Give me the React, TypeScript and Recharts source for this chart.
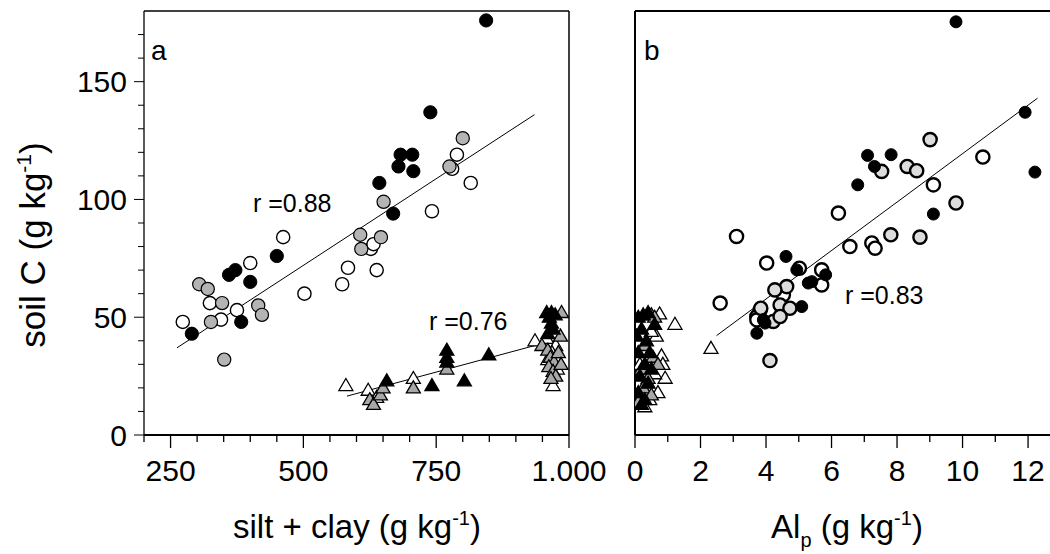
import React from 'react';
import { ScatterChart, Scatter, XAxis, YAxis, ReferenceLine } from 'recharts';

// ---------- data ----------
// Panel a: silt + clay (g kg-1) vs soil C (g kg-1)
const aBlackCircles: [number, number][] = [
  [290, 43], [360, 68], [372, 70], [383, 48], [400, 65], [450, 76], [643, 107], [669, 94],
  [679, 114], [683, 119], [705, 119], [707, 112], [739, 137], [844, 176],
];
const aGreyCircles: [number, number][] = [
  [304, 64], [320, 62], [326, 48], [347, 56], [351, 32], [415, 55], [422, 51], [607, 85],
  [609, 79], [646, 84], [651, 99], [775, 114], [800, 126],
];
const aOpenCircles: [number, number][] = [
  [273, 48], [324, 56], [345, 49], [375, 53], [400, 73], [462, 84], [502, 60], [573, 64],
  [584, 71], [627, 79], [632, 81], [638, 70], [742, 95], [780, 113], [789, 119], [815, 107],
];
const aBlackTriangles: [number, number][] = [
  [657, 23], [742, 21], [770, 36], [770, 33], [770, 31], [803, 23], [849, 34],
  [958, 52], [963, 50], [967, 52], [974, 51], [967, 47.5], [970, 45], [960, 43],
];
const aGreyTriangles: [number, number][] = [
  [625, 15], [632, 13], [645, 17], [650, 20], [707, 20], [770, 28],
  [986, 52], [949, 38], [984, 42], [960, 36], [965, 33], [972, 31], [962, 29], [970, 27],
  [975, 25], [966, 24], [980, 35], [985, 30],
];
const aOpenTriangles: [number, number][] = [
  [580, 21], [622, 19], [638, 16], [707, 24], [936, 40], [958, 41], [975, 38], [968, 35],
  [960, 32], [978, 28], [970, 21],
];
const aCircleFit: [number, number][] = [[262, 37], [935, 136]];
const aTriangleFit: [number, number][] = [[582, 16.5], [936, 38]];

// Panel b: Al_p (g kg-1) vs soil C (g kg-1)
const bBlackCircles: [number, number][] = [
  [9.8, 175.4], [11.91, 137], [12.21, 111.6], [7.1, 118.7], [7.82, 119], [7.31, 114], [6.8, 106.2],
  [9.11, 93.8], [4.61, 75.8], [4.94, 70.1], [5.82, 68], [5.4, 65.1], [5.29, 64.5], [5.09, 54.5],
  [3.92, 48.9], [3.97, 47.5], [3.72, 43.2],
];
const bGreyCircles: [number, number][] = [
  [9.01, 125.4], [7.53, 111.9], [8.31, 114], [8.6, 112.2], [9.8, 98.5], [8.7, 84], [7.81, 85],
  [4.63, 63], [4.27, 61.6], [4.43, 55.2], [4.73, 53.8], [3.84, 53.8], [4.22, 48.2], [4.43, 50.3],
  [4.12, 31.6],
];
const bOpenCircles: [number, number][] = [
  [10.62, 118], [9.11, 106.2], [6.21, 94.2], [3.1, 84.3], [7.23, 81.5], [7.33, 79.3], [6.56, 80],
  [4.02, 73], [5.02, 70.8], [5.7, 70.1], [5.7, 63.7], [4.53, 59.5], [2.6, 56], [3.82, 53.1],
  [3.72, 50.3], [3.72, 48.9],
];
const bBlackTriangles: [number, number][] = [
  [0.1, 50], [0.25, 51], [0.4, 52], [0.2, 45], [0.35, 40], [0.1, 35], [0.3, 30], [0.15, 25],
  [0.4, 22], [0.1, 18], [0.3, 15], [0.2, 13], [0.5, 28], [0.45, 35], [0.05, 42], [0.6, 47],
];
const bGreyTriangles: [number, number][] = [
  [0.5, 51], [0.6, 50], [0.3, 38], [0.55, 33], [0.2, 28], [0.7, 30], [0.4, 24], [0.25, 20],
  [0.5, 17], [0.1, 14],
];
const bOpenTriangles: [number, number][] = [
  [2.32, 36.8], [1.22, 47], [0.75, 51.4], [0.65, 42], [0.81, 33.6], [0.92, 24.1], [0.85, 30],
  [0.6, 26], [0.45, 15], [0.3, 12], [0.7, 18], [0.15, 30], [0.5, 44],
];
const bCircleFit: [number, number][] = [[2.49, 42.2], [12.29, 143]];

// axes
const soilCTicks = [0, 10, 20, 30, 40, 50, 60, 70, 80, 90, 100, 110, 120, 130, 140, 150, 160, 170];
const soilCLabels = [0, 50, 100, 150];
const siltTicks = [200, 250, 300, 350, 400, 450, 500, 550, 600, 650, 700, 750, 800, 850, 900, 950, 1000];
const siltLabels: Record<number, string> = { 250: '250', 500: '500', 750: '750', 1000: '1.000' };
const alTicks = [0, 1, 2, 3, 4, 5, 6, 7, 8, 9, 10, 11, 12];
const alLabels = [0, 2, 4, 6, 8, 10, 12];
const SOIL_C_MAX = 180;
const SILT_MIN = 200;
const SILT_MAX = 1000;
const AL_MAX = 12.67;

const toPts = (a: [number, number][]) => a.map(([x, y]) => ({ x, y }));

const FONT = '"Liberation Sans", Arial, sans-serif';
const TICK_FS = 30;

// ---------- shapes ----------
const circleShape = (fill: string, sw: number, r = 6.6) => (p: any) => (
  <circle cx={p.cx} cy={p.cy} r={r} fill={fill} stroke="#000" strokeWidth={sw} />
);
const triShape = (fill: string) => (p: any) => {
  const { cx, cy } = p;
  return (
    <path
      d={`M${cx},${cy - 7} L${cx + 7},${cy + 5} L${cx - 7},${cy + 5} Z`}
      fill={fill}
      stroke="#000"
      strokeWidth={1.3}
    />
  );
};

// ---------- ticks ----------
const YTick = (p: any) => {
  const v = p.payload.value;
  const major = soilCLabels.includes(v);
  return (
    <g>
      <line x1={p.x - (major ? 10 : 6)} x2={p.x} y1={p.y} y2={p.y} stroke="#000" strokeWidth={1} />
      {major && (
        <text x={p.x - 17} y={p.y} dy="0.36em" textAnchor="end" fontSize={TICK_FS} fontFamily={FONT} fill="#000">
          {v}
        </text>
      )}
    </g>
  );
};

const SiltTick = (p: any) => {
  const v = p.payload.value;
  const label = siltLabels[v];
  return (
    <g>
      <line x1={p.x} x2={p.x} y1={p.y} y2={p.y + (label ? 13 : 7)} stroke="#000" strokeWidth={1.3} />
      {label && (
        <text x={p.x} y={p.y + 46} textAnchor="middle" fontSize={TICK_FS} fontFamily={FONT} fill="#000">
          {label}
        </text>
      )}
    </g>
  );
};

const AlTick = (p: any) => {
  const v = p.payload.value;
  const major = alLabels.includes(v);
  return (
    <g>
      <line x1={p.x} x2={p.x} y1={p.y} y2={p.y + (major ? 13 : 7)} stroke="#000" strokeWidth={1.3} />
      {major && (
        <text x={p.x} y={p.y + 46} textAnchor="middle" fontSize={TICK_FS} fontFamily={FONT} fill="#000">
          {v}
        </text>
      )}
    </g>
  );
};

export default function App() {
  return (
    <div style={{ position: 'absolute', left: 0, top: 0, width: 1050, height: 554, background: '#fff', overflow: 'hidden' }}>
      {/* Panel a */}
      <div style={{ position: 'absolute', left: 0, top: 0 }}>
        <ScatterChart width={640} height={554} margin={{ top: 11, right: 71, bottom: 0, left: 0 }}>
          <XAxis
            type="number"
            dataKey="x"
            domain={[SILT_MIN, SILT_MAX]}
            ticks={siltTicks}
            interval={0}
            tickSize={0}
            tickMargin={0}
            tickLine={false}
            tick={SiltTick}
            axisLine={{ stroke: '#000', strokeWidth: 2 }}
            height={119}
            allowDataOverflow
          />
          <YAxis
            type="number"
            dataKey="y"
            domain={[0, SOIL_C_MAX]}
            ticks={soilCTicks}
            interval={0}
            tickSize={0}
            tickMargin={0}
            tickLine={false}
            tick={YTick}
            axisLine={{ stroke: '#000', strokeWidth: 1.3 }}
            width={144}
            allowDataOverflow
          />
          <ReferenceLine y={SOIL_C_MAX} stroke="#000" strokeWidth={1.5} />
          <ReferenceLine x={SILT_MAX} stroke="#000" strokeWidth={1.5} />
          <ReferenceLine
            segment={[{ x: aCircleFit[0][0], y: aCircleFit[0][1] }, { x: aCircleFit[1][0], y: aCircleFit[1][1] }]}
            stroke="#000"
            strokeWidth={1}
          />
          <ReferenceLine
            segment={[{ x: aTriangleFit[0][0], y: aTriangleFit[0][1] }, { x: aTriangleFit[1][0], y: aTriangleFit[1][1] }]}
            stroke="#000"
            strokeWidth={1}
          />
          <Scatter data={toPts(aOpenTriangles)} shape={triShape('#fff')} isAnimationActive={false} />
          <Scatter data={toPts(aGreyTriangles)} shape={triShape('#a8a8a8')} isAnimationActive={false} />
          <Scatter data={toPts(aBlackTriangles)} shape={triShape('#000')} isAnimationActive={false} />
          <Scatter data={toPts(aOpenCircles)} shape={circleShape('#fff', 1.4)} isAnimationActive={false} />
          <Scatter data={toPts(aGreyCircles)} shape={circleShape('#b4b4b4', 1.2)} isAnimationActive={false} />
          <Scatter data={toPts(aBlackCircles)} shape={circleShape('#000', 1)} isAnimationActive={false} />
        </ScatterChart>
      </div>

      {/* Panel b */}
      <div style={{ position: 'absolute', left: 600, top: 0 }}>
        <ScatterChart width={450} height={554} margin={{ top: 11, right: 0, bottom: 0, left: 0 }}>
          <XAxis
            type="number"
            dataKey="x"
            domain={[0, AL_MAX]}
            ticks={alTicks}
            interval={0}
            tickSize={0}
            tickMargin={0}
            tickLine={false}
            tick={AlTick}
            axisLine={{ stroke: '#000', strokeWidth: 2 }}
            height={119}
            allowDataOverflow
          />
          <YAxis
            type="number"
            dataKey="y"
            domain={[0, SOIL_C_MAX]}
            tick={false}
            tickLine={false}
            axisLine={{ stroke: '#000', strokeWidth: 2 }}
            width={35}
            allowDataOverflow
          />
          <ReferenceLine y={SOIL_C_MAX} stroke="#000" strokeWidth={2} />
          <ReferenceLine
            segment={[{ x: bCircleFit[0][0], y: bCircleFit[0][1] }, { x: bCircleFit[1][0], y: bCircleFit[1][1] }]}
            stroke="#000"
            strokeWidth={1}
          />
          <Scatter data={toPts(bOpenTriangles)} shape={triShape('#fff')} isAnimationActive={false} />
          <Scatter data={toPts(bGreyTriangles)} shape={triShape('#a8a8a8')} isAnimationActive={false} />
          <Scatter data={toPts(bBlackTriangles)} shape={triShape('#000')} isAnimationActive={false} />
          <Scatter data={toPts(bOpenCircles)} shape={circleShape('#fff', 2.4)} isAnimationActive={false} />
          <Scatter data={toPts(bGreyCircles)} shape={circleShape('#dcdcdc', 2.4)} isAnimationActive={false} />
          <Scatter data={toPts(bBlackCircles)} shape={circleShape('#000', 1, 6)} isAnimationActive={false} />
        </ScatterChart>
      </div>

      {/* text overlay */}
      <svg width={1050} height={554} style={{ position: 'absolute', left: 0, top: 0, pointerEvents: 'none' }} fontFamily={FONT}>
        <text x={151} y={60} fontSize={28}>a</text>
        <text x={644} y={60} fontSize={28}>b</text>
        <text x={253} y={212} fontSize={25}>r =0.88</text>
        <text x={429} y={330} fontSize={25}>r =0.76</text>
        <text x={845} y={304} fontSize={25}>r =0.83</text>
        <text x={357} y={538} fontSize={33} textAnchor="middle">
          silt + clay (g kg<tspan dy={-13} fontSize={20}>-1</tspan><tspan dy={13}>)</tspan>
        </text>
        <text x={847} y={538} fontSize={33} textAnchor="middle">
          Al<tspan dy={9} fontSize={20}>p</tspan><tspan dy={-9}> (g kg</tspan><tspan dy={-13} fontSize={20}>-1</tspan><tspan dy={13}>)</tspan>
        </text>
        <text x={0} y={0} fontSize={35} textAnchor="middle" transform="translate(45,245) rotate(-90)">
          soil C (g kg<tspan dy={-14} fontSize={21}>-1</tspan><tspan dy={14}>)</tspan>
        </text>
      </svg>
    </div>
  );
}
